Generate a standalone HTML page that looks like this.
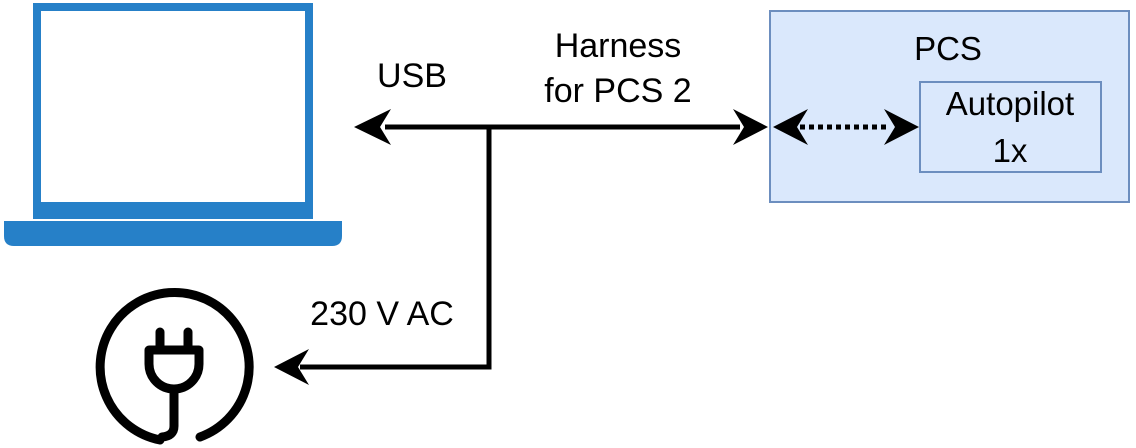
<!DOCTYPE html>
<html><head><style>
html,body{margin:0;padding:0;background:#fff;}
svg{display:block;}
text{font-family:"Liberation Sans",sans-serif;fill:#000;}
</style></head><body>
<svg width="1136" height="448" viewBox="0 0 1136 448" xmlns="http://www.w3.org/2000/svg">
<!-- laptop -->
<rect x="33" y="3" width="280" height="216" fill="#2680c8"/>
<rect x="41" y="11" width="264" height="191" fill="#fff"/>
<path d="M4 221 H342 V236 Q342 246 332 246 H14 Q4 246 4 236 Z" fill="#2680c8"/>
<!-- plug -->
<path d="M160 440 A74.5 74.5 0 1 1 200 437" fill="none" stroke="#000" stroke-width="9" stroke-linecap="round"/>
<g fill="none" stroke="#000" stroke-width="9" stroke-linecap="round" stroke-linejoin="round">
<path d="M160 332 V349 M188 332 V349"/>
<path d="M149 350 H199 V364 A25 25 0 0 1 149 364 Z"/>
<path d="M174 390 V426 Q174 436 162 437"/>
</g>
<!-- PCS box -->
<rect x="770" y="11" width="359" height="191" fill="#dae8fc" stroke="#6c8ebf" stroke-width="2"/>
<rect x="920" y="82" width="181" height="90" fill="#dae8fc" stroke="#6c8ebf" stroke-width="2"/>
<g font-size="33">
<text x="948" y="60" text-anchor="middle">PCS</text>
<text x="1010" y="115" text-anchor="middle">Autopilot</text>
<text x="1010" y="162" text-anchor="middle">1x</text>
</g>
<!-- connectors -->
<g stroke="#000" stroke-width="5" fill="none">
<path d="M385 127 H740"/>
<path d="M489 127 V367 H300"/>
<path d="M800 127 H890" stroke-dasharray="5 4" stroke-width="5"/>
</g>
<g fill="#000">
<path d="M354 127 L391 109 L380 127 L391 145 Z"/>
<path d="M768 127 L733 109 L744 127 L733 145 Z"/>
<path d="M773 127 L808 109 L797 127 L808 145 Z"/>
<path d="M919 127 L884 109 L895 127 L884 145 Z"/>
<path d="M274 367 L309 349 L298 367 L309 385 Z"/>
</g>
<g font-size="34">
<text x="412" y="87" text-anchor="middle">USB</text>
<text x="618" y="57" text-anchor="middle">Harness</text>
<text x="618" y="102" text-anchor="middle">for PCS 2</text>
<text x="382" y="325" text-anchor="middle">230 V AC</text>
</g>
</svg>
</body></html>
